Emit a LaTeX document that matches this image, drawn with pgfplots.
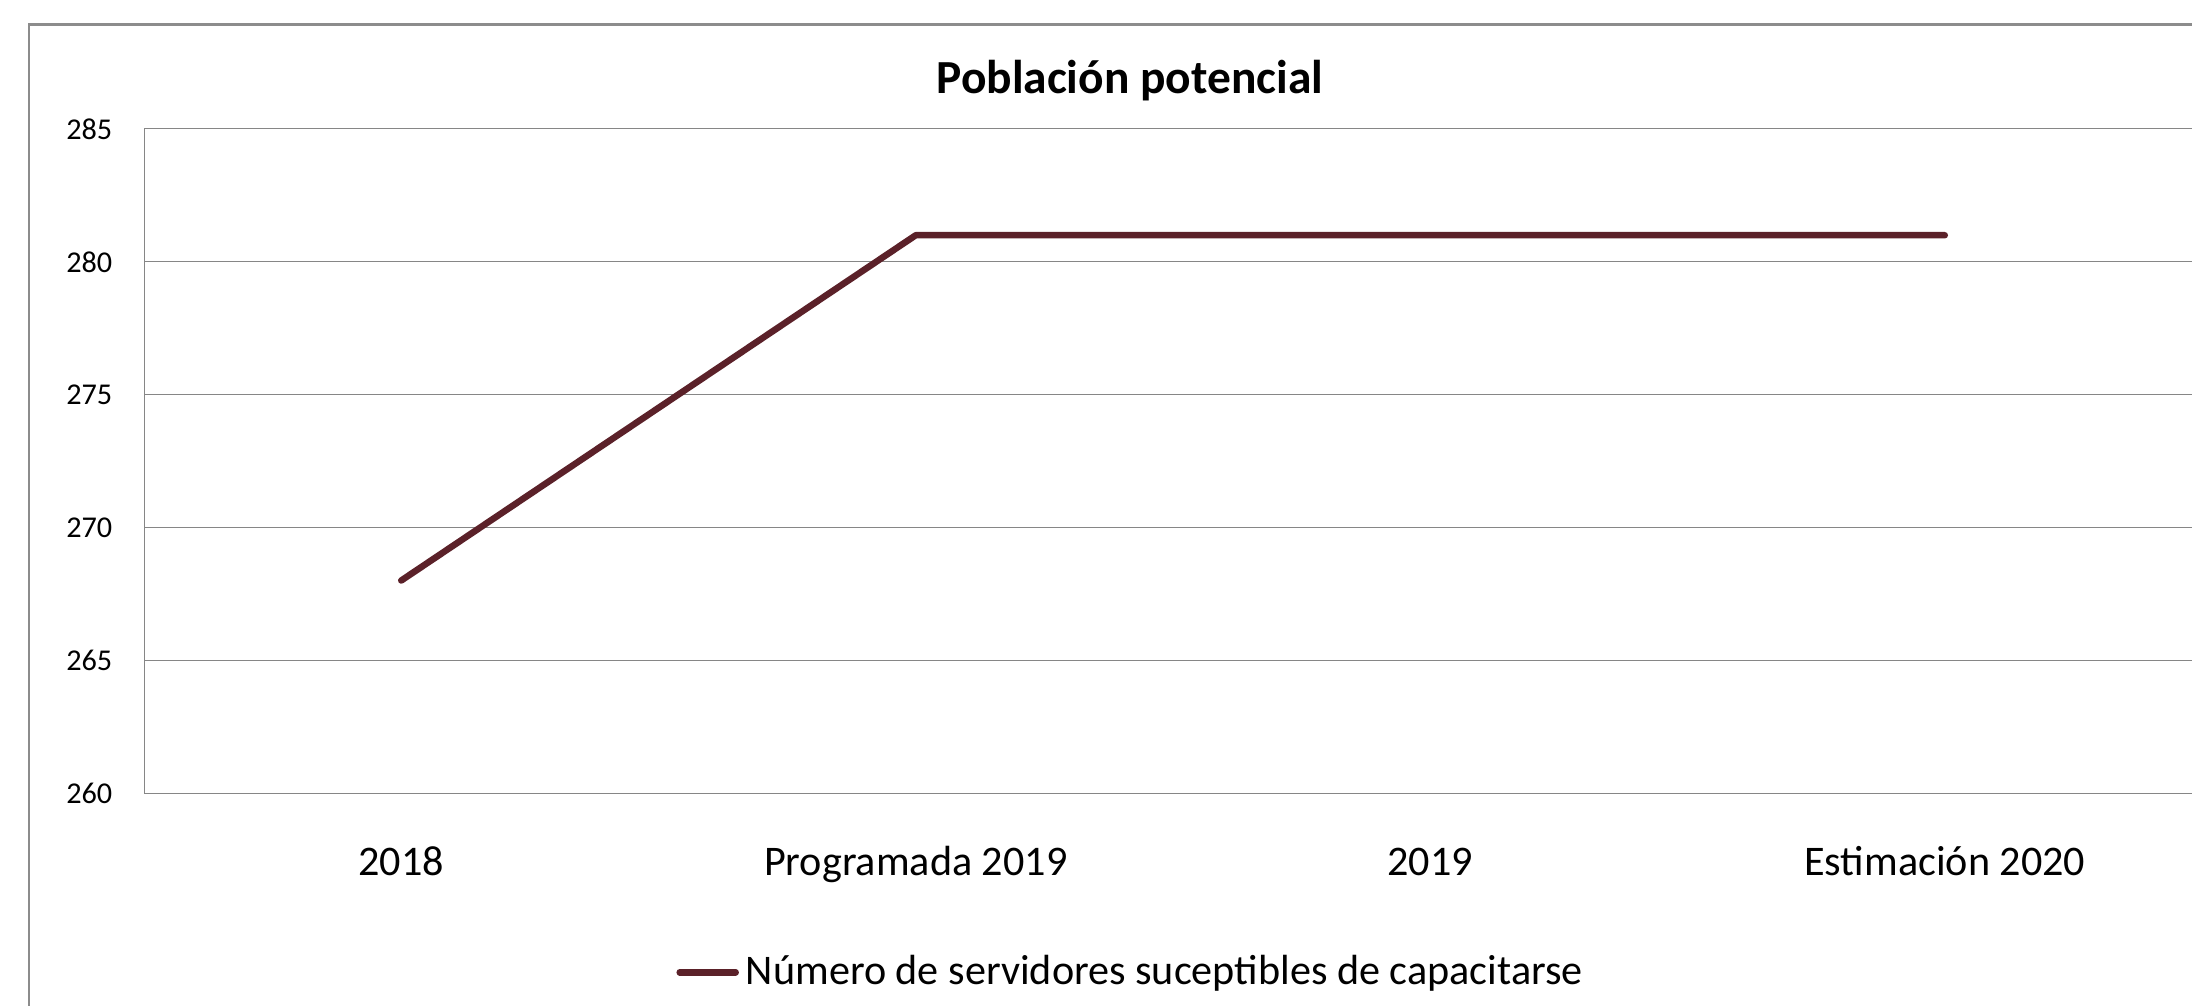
\documentclass[border=0pt]{standalone}
\usepackage{pgfplots}
\pgfplotsset{compat=1.18}
\usepackage{fontspec}
\setmainfont{Carlito}
\definecolor{linec}{RGB}{91,33,41}
\definecolor{gridc}{RGB}{134,134,134}
\definecolor{framec}{RGB}{140,140,140}
\begin{document}
\begin{tikzpicture}
\useasboundingbox (0,0) rectangle (21.92cm,10.05cm);
\clip (0,0) rectangle (21.92cm,10.05cm);
\fill[white] (0,0) rectangle (21.92cm,10.05cm);
\draw[framec, line width=0.25mm] (0.29cm,9.805cm) rectangle (25cm,-3cm);
\begin{axis}[
  at={(1.44cm,2.12cm)}, anchor=south west,
  scale only axis, width=20.58cm, height=6.64cm,
  xmin=-0.5, xmax=3.5, ymin=260, ymax=285,
  xtick={0,1,2,3}, xticklabels={2018, Programada 2019, 2019, Estimación 2020},
  ytick={260,265,...,285},
  ymajorgrids, grid style={gridc, line width=0.1mm},
  axis line style={gridc, line width=0.1mm},
  major tick length=0,
  xticklabel style={font=\fontsize{12}{14}\selectfont, anchor=base, yshift=-0.827cm},
  yticklabel style={font=\fontsize{8.6}{10}\selectfont, anchor=east, inner sep=0pt, xshift=-0.31cm},
  /pgf/number format/assume math mode=true,
  title={\textbf{Población potencial}},
  title style={font=\fontsize{13.5}{16}\selectfont, at={(axis description cs:0.479,1.041)}, anchor=center},
  legend style={at={(axis description cs:0.4806,-0.27)}, anchor=center, draw=none, fill=none, font=\fontsize{12}{14}\selectfont},
  legend image code/.code={\draw[#1, line cap=round] (0cm,0cm) -- (0.56cm,0cm);},
]
\addplot[linec, line width=0.65mm, line cap=round, line join=round] coordinates {(0,268) (1,281) (2,281) (3,281)};
\legend{Número de servidores suceptibles de capacitarse}
\end{axis}
\end{tikzpicture}
\end{document}
